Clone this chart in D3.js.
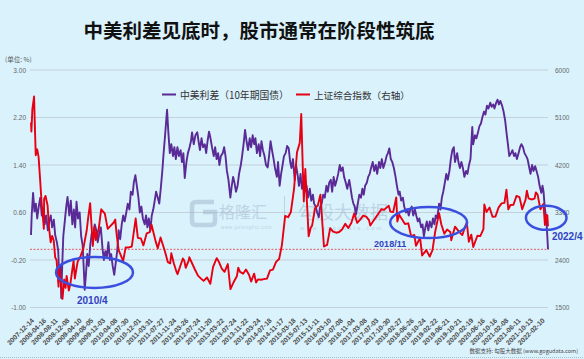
<!DOCTYPE html>
<html><head><meta charset="utf-8">
<script src="https://cdn.jsdelivr.net/npm/d3@7"></script>
<style>
html,body{margin:0;padding:0;background:#daf2fc;}
svg{display:block;}
</style></head>
<body>
<svg id="c" width="584" height="359"></svg>
<script>
// ---------- DATA ----------
const title = "中美利差见底时，股市通常在阶段性筑底";
const seriesNames = ["中美利差（10年期国债）", "上证综合指数（右轴）"];
const leftTicks = [-1.0, -0.2, 0.6, 1.4, 2.2, 3.0];
const rightTicks = [1500, 2400, 3300, 4200, 5100, 6000];
const xTickLabels = ["2007-12-14","2008-04-16","2008-08-11","2008-12-08","2009-04-10","2009-08-05","2009-12-03","2010-04-08","2010-07-30","2010-12-01","2011-03-31","2011-07-27","2011-11-24","2012-03-26","2012-07-24","2012-11-20","2013-03-22","2013-07-24","2013-11-22","2014-03-24","2014-07-18","2014-11-17","2015-03-18","2015-07-13","2015-11-11","2016-03-10","2016-07-08","2016-11-04","2017-03-08","2017-07-03","2017-10-30","2018-02-27","2018-06-26","2018-10-24","2019-02-22","2019-06-21","2019-10-21","2020-02-19","2020-06-16","2020-10-16","2021-02-08","2021-06-11","2021-10-13","2022-02-10"];

// 中美利差 (%), left axis
const spreadSeries = [
["2007-12-14",0.22],["2007-12-21",0.55],["2008-01-04",0.93],["2008-01-18",0.62],["2008-02-01",0.75],["2008-02-15",0.50],["2008-03-03",0.72],["2008-03-17",0.85],["2008-04-01",0.55],["2008-04-15",0.65],["2008-05-01",0.40],["2008-05-15",0.55],["2008-06-02",0.30],["2008-06-16",0.45],["2008-07-01",0.55],["2008-07-15",0.35],["2008-08-01",0.48],["2008-08-15",0.22],["2008-09-01",0.10],["2008-09-15",-0.05],["2008-09-26",-0.55],["2008-10-08",-0.30],["2008-10-15",-0.84],["2008-10-24",-0.35],["2008-11-05",0.20],["2008-11-20",0.45],["2008-12-05",0.70],["2008-12-18",0.86],
["2009-01-05",0.55],["2009-01-20",0.80],["2009-02-05",0.40],["2009-02-20",0.65],["2009-03-05",0.35],["2009-03-19",0.78],["2009-04-03",0.50],["2009-04-20",0.60],["2009-05-05",0.20],["2009-05-20",0.05],["2009-06-02",-0.40],["2009-06-10",-0.70],["2009-06-22",-0.45],["2009-07-06",-0.10],["2009-07-20",-0.30],["2009-08-05",0.05],["2009-08-20",0.25],["2009-09-04",0.15],["2009-09-20",0.40],["2009-10-05",0.30],["2009-10-20",0.10],["2009-11-05",0.25],["2009-11-20",0.35],["2009-12-07",0.00],["2009-12-21",-0.20],
["2010-01-05",-0.05],["2010-01-20",-0.15],["2010-02-05",0.10],["2010-02-20",-0.20],["2010-03-05",-0.10],["2010-03-20",-0.30],["2010-04-05",-0.45],["2010-04-20",-0.25],["2010-05-05",-0.05],["2010-05-20",0.30],["2010-06-04",0.15],["2010-06-20",0.40],["2010-07-05",0.55],["2010-07-20",0.45],["2010-08-05",0.60],["2010-08-20",0.75],["2010-09-06",0.65],["2010-09-20",0.95],["2010-10-08",0.90],["2010-10-20",1.10],["2010-11-05",1.23],["2010-11-20",1.05],["2010-12-06",0.85],["2010-12-20",0.60],
["2011-01-05",0.70],["2011-01-20",0.50],["2011-02-08",0.40],["2011-02-21",0.55],["2011-03-07",0.35],["2011-03-21",0.50],["2011-04-06",0.30],["2011-04-20",0.55],["2011-05-05",0.65],["2011-05-20",0.80],["2011-06-03",0.95],["2011-06-20",0.85],["2011-07-05",0.75],["2011-07-20",1.00],["2011-08-05",1.30],["2011-08-18",1.60],["2011-09-02",1.90],["2011-09-22",2.33],["2011-10-05",1.95],["2011-10-20",1.60],["2011-11-04",1.75],["2011-11-21",1.55],["2011-12-05",1.70],["2011-12-20",1.50],
["2012-01-05",1.70],["2012-01-20",1.55],["2012-02-06",1.65],["2012-02-20",1.45],["2012-03-05",1.60],["2012-03-19",1.18],["2012-04-05",1.45],["2012-04-20",1.60],["2012-05-07",1.70],["2012-05-21",1.80],["2012-06-01",1.95],["2012-06-18",1.75],["2012-07-05",1.90],["2012-07-24",1.95],["2012-08-06",1.80],["2012-08-20",1.65],["2012-09-05",1.85],["2012-09-20",1.70],["2012-10-08",1.75],["2012-10-22",1.60],["2012-11-05",1.80],["2012-11-20",1.96],["2012-12-05",1.85],["2012-12-20",1.70],
["2013-01-07",1.55],["2013-01-21",1.70],["2013-02-05",1.50],["2013-02-20",1.60],["2013-03-05",1.40],["2013-03-20",1.55],["2013-04-08",1.60],["2013-04-22",1.70],["2013-05-06",1.55],["2013-05-20",1.30],["2013-06-05",1.15],["2013-06-24",0.85],["2013-07-08",1.05],["2013-07-22",1.20],["2013-08-05",1.10],["2013-08-20",0.95],["2013-09-05",1.05],["2013-09-20",1.25],["2013-10-08",1.40],["2013-10-21",1.55],["2013-11-05",1.75],["2013-11-20",1.99],["2013-12-05",1.80],["2013-12-20",1.65],
["2014-01-06",1.85],["2014-01-20",1.70],["2014-02-05",1.90],["2014-02-20",1.75],["2014-03-05",1.85],["2014-03-20",1.60],["2014-04-07",1.75],["2014-04-21",1.55],["2014-05-05",1.80],["2014-05-20",1.65],["2014-06-05",1.55],["2014-06-20",1.40],["2014-07-07",1.36],["2014-07-21",1.55],["2014-08-05",1.80],["2014-08-20",1.65],["2014-09-05",1.50],["2014-09-19",1.35],["2014-10-08",1.20],["2014-10-20",1.45],["2014-11-05",1.05],["2014-11-20",1.25],["2014-12-05",1.40],["2014-12-19",1.55],
["2015-01-05",1.60],["2015-01-20",1.72],["2015-02-05",1.68],["2015-02-20",1.45],["2015-03-05",1.35],["2015-03-20",1.50],["2015-04-07",1.15],["2015-04-20",1.40],["2015-05-05",1.25],["2015-05-20",1.05],["2015-06-05",1.25],["2015-06-19",1.00],["2015-07-06",1.15],["2015-07-20",0.95],["2015-08-05",1.05],["2015-08-20",0.85],["2015-09-07",1.00],["2015-09-21",0.80],["2015-10-08",0.90],["2015-10-20",0.75],["2015-11-05",0.70],["2015-11-20",0.60],["2015-12-07",0.52],["2015-12-21",0.70],
["2016-01-05",0.75],["2016-01-20",0.90],["2016-02-05",0.85],["2016-02-22",1.05],["2016-03-07",0.95],["2016-03-21",1.10],["2016-04-06",1.15],["2016-04-20",0.95],["2016-05-05",1.20],["2016-05-20",1.05],["2016-06-06",1.15],["2016-06-20",1.25],["2016-07-06",1.40],["2016-07-20",1.30],["2016-08-05",1.36],["2016-08-19",1.20],["2016-09-05",1.10],["2016-09-20",1.00],["2016-10-10",1.15],["2016-10-20",1.05],["2016-11-07",0.85],["2016-11-21",0.75],["2016-12-05",0.70],["2016-12-16",0.56],
["2017-01-05",0.75],["2017-01-20",0.90],["2017-02-06",0.85],["2017-02-20",1.00],["2017-03-06",0.90],["2017-03-20",1.05],["2017-04-06",1.10],["2017-04-20",1.20],["2017-05-05",1.25],["2017-05-19",1.35],["2017-06-05",1.45],["2017-06-20",1.30],["2017-07-06",1.40],["2017-07-20",1.25],["2017-08-07",1.45],["2017-08-21",1.35],["2017-09-05",1.50],["2017-09-20",1.35],["2017-10-09",1.45],["2017-10-23",1.55],["2017-11-06",1.60],["2017-11-20",1.68],["2017-12-05",1.50],["2017-12-20",1.45],
["2018-01-05",1.35],["2018-01-22",1.20],["2018-02-05",1.05],["2018-02-21",0.90],["2018-03-05",0.95],["2018-03-20",0.80],["2018-04-06",0.85],["2018-04-20",0.70],["2018-05-07",0.60],["2018-05-21",0.65],["2018-06-05",0.55],["2018-06-20",0.65],["2018-07-05",0.70],["2018-07-20",0.55],["2018-08-06",0.65],["2018-08-20",0.55],["2018-09-05",0.45],["2018-09-20",0.50],["2018-10-08",0.35],["2018-10-22",0.40],["2018-11-05",0.20],["2018-11-20",0.35],["2018-12-05",0.45],["2018-12-20",0.30],
["2019-01-04",0.45],["2019-01-21",0.35],["2019-02-05",0.50],["2019-02-20",0.40],["2019-03-05",0.55],["2019-03-20",0.50],["2019-04-08",0.75],["2019-04-22",0.65],["2019-05-06",0.85],["2019-05-20",0.95],["2019-06-05",1.10],["2019-06-20",1.25],["2019-07-05",1.15],["2019-07-22",1.30],["2019-08-05",1.50],["2019-08-20",1.65],["2019-09-04",1.70],["2019-09-16",1.45],["2019-10-08",1.60],["2019-10-21",1.45],["2019-11-05",1.35],["2019-11-20",1.45],["2019-12-05",1.35],["2019-12-20",1.20],
["2020-01-06",1.30],["2020-01-20",1.25],["2020-02-05",1.40],["2020-02-20",1.50],["2020-03-09",2.04],["2020-03-18",1.75],["2020-04-06",1.90],["2020-04-20",1.85],["2020-05-06",1.95],["2020-05-20",2.05],["2020-06-05",2.10],["2020-06-19",2.20],["2020-07-06",2.30],["2020-07-20",2.25],["2020-08-05",2.40],["2020-08-20",2.35],["2020-09-07",2.45],["2020-09-21",2.38],["2020-10-09",2.42],["2020-10-20",2.35],["2020-11-06",2.45],["2020-11-20",2.50],["2020-12-04",2.42],["2020-12-18",2.48],
["2021-01-05",2.40],["2021-01-20",2.30],["2021-02-05",2.15],["2021-02-22",1.90],["2021-03-05",1.75],["2021-03-19",1.55],["2021-04-06",1.60],["2021-04-20",1.65],["2021-05-06",1.55],["2021-05-20",1.60],["2021-06-04",1.50],["2021-06-21",1.60],["2021-07-06",1.70],["2021-07-20",1.75],["2021-08-05",1.70],["2021-08-20",1.60],["2021-09-06",1.55],["2021-09-20",1.50],["2021-10-08",1.35],["2021-10-20",1.25],["2021-11-05",1.40],["2021-11-19",1.30],["2021-12-06",1.38],["2021-12-20",1.30],
["2022-01-05",1.20],["2022-01-20",1.05],["2022-02-07",0.93],["2022-02-18",1.05],["2022-03-01",0.95],["2022-03-10",0.75],["2022-03-22",0.55],["2022-04-01",0.40],["2022-04-08",0.20],["2022-04-15",-0.02]
];

// 上证综合指数, right axis
const sseSeries = [
["2007-12-14",5008],["2007-12-18",4836],["2007-12-28",5261],["2008-01-14",5497],["2008-01-25",4761],["2008-01-31",4383],["2008-02-15",4497],["2008-02-29",4348],["2008-03-14",3962],["2008-03-31",3473],["2008-04-18",3094],["2008-04-22",2990],["2008-04-25",3558],["2008-05-09",3613],["2008-05-30",3433],["2008-06-13",3023],["2008-06-30",2736],["2008-07-15",2856],["2008-07-31",2775],["2008-08-15",2450],["2008-08-29",2397],["2008-09-18",1895],["2008-09-25",2297],["2008-10-10",2000],["2008-10-28",1664],["2008-11-14",2030],["2008-11-28",1871],["2008-12-09",2100],["2008-12-31",1821],
["2009-01-16",1954],["2009-02-17",2390],["2009-03-02",2049],["2009-03-31",2373],["2009-04-30",2477],["2009-05-29",2633],["2009-06-30",2959],["2009-07-15",3200],["2009-08-04",3478],["2009-08-31",2667],["2009-09-15",3026],["2009-09-30",2779],["2009-10-30",2995],["2009-11-24",3361],["2009-12-31",3277],
["2010-01-29",2989],["2010-02-12",3018],["2010-03-31",3110],["2010-04-15",3166],["2010-04-30",2870],["2010-05-20",2587],["2010-06-30",2398],["2010-07-02",2363],["2010-07-30",2638],["2010-08-31",2638],["2010-09-30",2656],["2010-11-08",3186],["2010-11-30",2820],["2010-12-31",2808],
["2011-01-25",2677],["2011-02-28",2905],["2011-03-31",2928],["2011-04-18",3067],["2011-05-31",2743],["2011-06-20",2621],["2011-07-18",2826],["2011-08-31",2567],["2011-09-30",2359],["2011-10-24",2338],["2011-11-04",2528],["2011-11-30",2333],["2011-12-28",2169],
["2012-01-06",2132],["2012-02-29",2428],["2012-03-14",2391],["2012-03-29",2252],["2012-04-30",2396],["2012-05-04",2452],["2012-06-29",2225],["2012-07-31",2103],["2012-08-31",2047],["2012-09-26",2004],["2012-10-31",2069],["2012-12-03",1949],["2012-12-31",2269],
["2013-02-06",2434],["2013-02-28",2366],["2013-03-29",2237],["2013-04-26",2177],["2013-05-29",2324],["2013-06-25",1849],["2013-07-31",1994],["2013-08-30",2098],["2013-09-12",2255],["2013-09-30",2175],["2013-10-31",2141],["2013-11-29",2220],["2013-12-31",2116],
["2014-01-20",1991],["2014-02-20",2142],["2014-03-12",1974],["2014-03-31",2033],["2014-04-30",2026],["2014-05-30",2039],["2014-06-30",2048],["2014-07-31",2202],["2014-08-29",2217],["2014-09-30",2364],["2014-10-31",2420],["2014-11-28",2683],["2014-12-31",3235],
["2015-01-30",3210],["2015-02-27",3310],["2015-03-31",3748],["2015-04-30",4442],["2015-05-28",4620],["2015-06-12",5166],["2015-06-29",4053],["2015-07-08",3507],["2015-07-23",4124],["2015-08-26",2850],["2015-09-15",3005],["2015-09-30",3053],["2015-10-30",3383],["2015-11-27",3436],["2015-12-23",3636],
["2016-01-28",2655],["2016-02-29",2688],["2016-03-31",3004],["2016-04-29",2938],["2016-05-31",2917],["2016-06-30",2930],["2016-07-29",2979],["2016-08-31",3085],["2016-09-30",3005],["2016-10-31",3100],["2016-11-29",3282],["2016-12-30",3104],
["2017-01-26",3159],["2017-02-28",3242],["2017-03-31",3223],["2017-04-28",3155],["2017-05-11",3052],["2017-06-30",3192],["2017-07-31",3273],["2017-08-31",3361],["2017-09-29",3349],["2017-11-14",3430],["2017-11-30",3317],["2017-12-29",3307],
["2018-01-29",3587],["2018-02-09",3129],["2018-02-28",3259],["2018-03-30",3169],["2018-04-27",3082],["2018-05-31",3095],["2018-06-29",2847],["2018-07-31",2876],["2018-08-17",2669],["2018-09-28",2821],["2018-10-18",2486],["2018-11-30",2588],
["2019-01-03",2464],["2019-01-31",2585],["2019-02-28",2941],["2019-04-08",3288],["2019-04-30",3078],["2019-05-31",2899],["2019-06-28",2979],["2019-07-31",2932],["2019-08-09",2774],["2019-09-16",3031],["2019-10-31",2929],["2019-11-29",2872],["2019-12-31",3050],
["2020-01-14",3107],["2020-02-03",2746],["2020-02-28",2880],["2020-03-19",2646],["2020-04-30",2860],["2020-05-29",2852],["2020-06-30",2985],["2020-07-09",3451],["2020-07-31",3310],["2020-08-31",3396],["2020-09-30",3218],["2020-10-30",3225],["2020-11-30",3392],["2020-12-31",3473],
["2021-01-29",3483],["2021-02-18",3732],["2021-03-09",3359],["2021-03-31",3442],["2021-04-30",3447],["2021-05-31",3615],["2021-06-30",3591],["2021-07-28",3361],["2021-08-31",3544],["2021-09-13",3715],["2021-09-30",3568],["2021-10-29",3547],["2021-11-30",3564],["2021-12-13",3681],["2021-12-31",3640],
["2022-01-28",3361],["2022-02-28",3462],["2022-03-15",3064],["2022-03-31",3252],["2022-04-08",3251],["2022-04-15",3040]
];

const refValue = -0.02; // dashed reference line (latest spread)
const annotations = [
  {label:"2010/4",  date:"2009-09-17", value:-0.41, rx:38.5, ry:15.5, dx:-17.5, dy:32},
  {label:"2018/11", date:"2018-12-23", value:0.43,  rx:38.5, ry:15.5, dx:-54.5, dy:24.5},
  {label:"2022/4",  date:"2022-03-28", value:0.51,  rx:20.3, ry:12,   dx:5.7,  dy:22}
];

// ---------- CHART ----------
const parse = d3.timeParse("%Y-%m-%d");
const svg = d3.select("#c");
const W = 584, H = 359;
const plot = {left:30, right:548, top:70, bottom:307.5};
const cjk = "'Noto Sans CJK SC','Noto Sans',sans-serif";

svg.append("rect").attr("width",W).attr("height",H).attr("fill","#daf2fc");

const x = d3.scaleTime()
  .domain([parse(spreadSeries[0][0]), parse(spreadSeries[spreadSeries.length-1][0])])
  .range([31, 548]);
const yL = d3.scaleLinear().domain([-1, 3]).range([plot.bottom, plot.top]);
const yR = d3.scaleLinear().domain([1500, 6000]).range([plot.bottom, plot.top]);

// title
svg.append("text").attr("x",259).attr("y",37.5).attr("text-anchor","middle")
  .attr("font-family",cjk).attr("font-weight","bold").attr("font-size",19.5).attr("fill","#111").text(title);

// unit
svg.append("text").attr("x",5).attr("y",62).attr("font-family",cjk).attr("font-size",6.5).attr("fill","#555").text("(单位: %)");

// grid
svg.append("g").selectAll("line").data(leftTicks).join("line")
  .attr("x1",plot.left).attr("x2",plot.right)
  .attr("y1",d=>yL(d)).attr("y2",d=>yL(d))
  .attr("stroke","#c3d1da").attr("stroke-width",1);

// left axis labels
const axL = svg.append("g").attr("transform",`translate(26,0)`)
  .call(d3.axisLeft(yL).tickValues(leftTicks).tickSize(0).tickPadding(0).tickFormat(d=>d.toFixed(2)));
axL.select(".domain").remove();
axL.selectAll("text").attr("font-family","'Liberation Sans',sans-serif").attr("font-size",6.5).attr("fill","#666");

// right axis labels
const axR = svg.append("g").attr("transform",`translate(555,0)`)
  .call(d3.axisRight(yR).tickValues(rightTicks).tickSize(0).tickPadding(0).tickFormat(d3.format("d")));
axR.select(".domain").remove();
axR.selectAll("text").attr("font-family","'Liberation Sans',sans-serif").attr("font-size",6.5).attr("fill","#666");

// x labels
svg.append("g").selectAll("text").data(xTickLabels).join("text")
  .attr("transform",d=>`translate(${x(parse(d))+3.5},321) rotate(-45)`)
  .attr("text-anchor","end")
  .attr("font-family","'Liberation Sans',sans-serif").attr("font-size",6.8).attr("font-weight","bold")
  .attr("fill","#4a4a4a").text(d=>d);

// watermark
const wm = svg.append("g").attr("fill","#9fb6cc").attr("opacity",0.5);
wm.append("path").attr("d","M214,202 H196 Q192,202 192,206 V221 Q192,225 196,225 H211 Q215,225 215,221 V212 H203")
  .attr("fill","none").attr("stroke","#9fb6cc").attr("stroke-width",4.5);
wm.append("text").attr("x",219).attr("y",218).attr("font-family",cjk).attr("font-size",16).text("格隆汇");
wm.append("text").attr("x",221).attr("y",228.5).attr("font-family","'Liberation Sans',sans-serif").attr("font-size",4.6).attr("letter-spacing",0.6).text("www.gelonghui.com");
wm.append("rect").attr("x",284).attr("y",196).attr("width",1).attr("height",22);
wm.append("text").attr("x",298).attr("y",219).attr("font-family",cjk).attr("font-size",18).text("勾股大数据");
wm.append("text").attr("x",300).attr("y",230).attr("font-family","'Liberation Sans',sans-serif").attr("font-size",5.5).attr("letter-spacing",2.2).text("www.gogudata.com");

// dashed reference line
svg.append("line").attr("x1",plot.left).attr("x2",549).attr("y1",yL(refValue)).attr("y2",yL(refValue))
  .attr("stroke","#e34a4a").attr("stroke-width",0.9).attr("stroke-dasharray","2,1.5");

// lines
const lineL = d3.line().x(d=>x(parse(d[0]))).y(d=>yL(d[1]));
const lineR = d3.line().x(d=>x(parse(d[0]))).y(d=>yR(d[1]));
svg.append("path").datum(spreadSeries).attr("d",lineL).attr("fill","none")
  .attr("stroke","#5a2a96").attr("stroke-width",1.9).attr("stroke-linejoin","round");
svg.append("path").datum(sseSeries).attr("d",lineR).attr("fill","none")
  .attr("stroke","#e60012").attr("stroke-width",1.9).attr("stroke-linejoin","round");

// legend
const lg = svg.append("g");
lg.append("line").attr("x1",162).attr("x2",176).attr("y1",94.5).attr("y2",94.5).attr("stroke","#5a2a96").attr("stroke-width",2);
lg.append("text").attr("x",180).attr("y",98.5).attr("font-family",cjk).attr("font-size",9.8).attr("fill","#333").text(seriesNames[0]);
lg.append("line").attr("x1",296).attr("x2",310).attr("y1",94.5).attr("y2",94.5).attr("stroke","#e60012").attr("stroke-width",2);
lg.append("text").attr("x",314).attr("y",98.5).attr("font-family",cjk).attr("font-size",9.6).attr("fill","#333").text(seriesNames[1]);

// annotations
const an = svg.append("g");
annotations.forEach(a=>{
  const cx = x(parse(a.date)), cy = yL(a.value);
  an.append("ellipse").attr("cx",cx).attr("cy",cy).attr("rx",a.rx).attr("ry",a.ry)
    .attr("fill","none").attr("stroke","#3a4fe0").attr("stroke-width",2.5);
  an.append("text").attr("x",cx+a.dx).attr("y",cy+a.dy)
    .attr("font-family","'Liberation Sans',sans-serif").attr("font-weight","bold")
    .attr("font-size",a.label==="2018/11"?9:10).attr("fill","#3340c0").text(a.label);
});

// source
svg.append("text").attr("x",578).attr("y",353).attr("text-anchor","end")
  .attr("font-family",cjk).attr("font-size",5.5).attr("fill","#444").text("数据支持: 勾股大数据 (www.gogudata.com)");

// bottom dotted border
svg.append("line").attr("x1",0).attr("x2",W).attr("y1",357.5).attr("y2",357.5)
  .attr("stroke","#aabdc8").attr("stroke-width",1).attr("stroke-dasharray","1,1");
</script>
</body></html>
